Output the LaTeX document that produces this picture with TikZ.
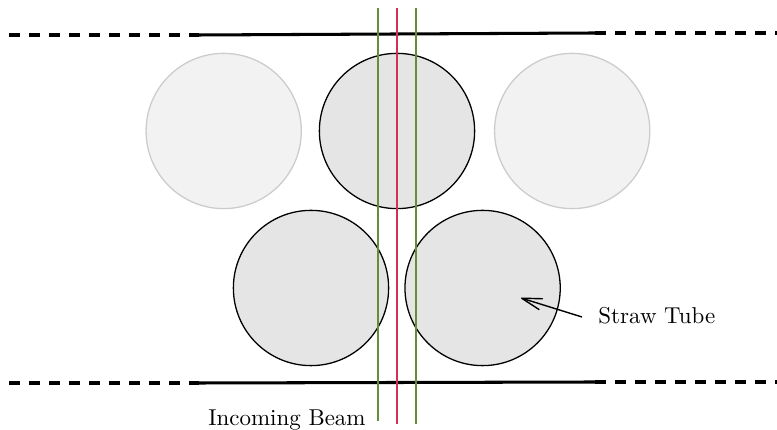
\documentclass[tikz,border=0pt]{standalone}
\usetikzlibrary{arrows.meta}
\definecolor{beamgreen}{HTML}{648F35}
\definecolor{beamred}{HTML}{D4304F}
\tikzset{
  tube/.style={circle,draw=black,fill=black!10,line width=0.55pt,minimum size=66.3pt,inner sep=0pt},
  fadedtube/.style={circle,draw=black!20,fill=black!5,line width=0.55pt,minimum size=66.3pt,inner sep=0pt},
  wall/.style={line width=1.3pt,black},
  wallext/.style={line width=1.3pt,black,dash pattern=on 4.9pt off 3.64pt},
  beam/.style={line width=0.55pt},
  label/.style={inner sep=0pt,font=\fontsize{9.8}{12}\selectfont},
  pointer/.style={line width=0.6pt,-{Straight Barb[length=8.5pt,width=4.8pt,round]}}
}
\begin{document}
\begin{tikzpicture}[x=0.427pt,y=-0.427pt]
\useasboundingbox (0,0) rectangle (777,430);
\node[fadedtube] (t1) at (223.7,131) {};
\node[tube] (t2) at (397,131) {};
\node[fadedtube] (t3) at (572.2,131) {};
\node[tube] (t4) at (311,288) {};
\node[tube] (t5) at (482.6,288) {};
\coordinate (tl0) at (9,35);
\coordinate (tl1) at (199,35);
\coordinate (tr1) at (595,33);
\coordinate (tr0) at (777,33);
\coordinate (bl0) at (9,383);
\coordinate (bl1) at (199,383);
\coordinate (br1) at (595,382);
\coordinate (br0) at (777,382);
\draw[wallext] (tl0) -- (tl1);
\draw[wall] (tl1) -- (tr1);
\draw[wallext] (tr1) -- (tr0);
\draw[wallext] (bl0) -- (bl1);
\draw[wall] (bl1) -- (br1);
\draw[wallext] (br1) -- (br0);
\coordinate (g1a) at (378,8);
\coordinate (g1b) at (378,421);
\coordinate (ra) at (397,8);
\coordinate (rb) at (397,424);
\coordinate (g2a) at (416,8);
\coordinate (g2b) at (416,424);
\draw[beam,beamgreen] (g1a) -- (g1b);
\draw[beam,beamred] (ra) -- (rb);
\draw[beam,beamgreen] (g2a) -- (g2b);
\node[label,anchor=base west] (straw) at (598,324) {Straw Tube};
\node[label,anchor=base east] (inc) at (366,426) {Incoming Beam};
\coordinate (pstart) at (582,317);
\coordinate (ptip) at (521,298);
\draw[pointer] (pstart) -- (ptip);
\end{tikzpicture}
\end{document}
